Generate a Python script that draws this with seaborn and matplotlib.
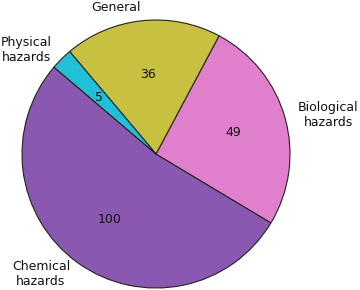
import matplotlib
matplotlib.use("Agg")
import matplotlib.pyplot as plt
import seaborn as sns

sns.set_theme(style="white")
plt.rcParams['font.family'] = ['DejaVu Sans']

categories = ["Chemical\nhazards", "Biological\nhazards", "General", "Physical\nhazards"]
values = [100, 49, 36, 5]
colors = ["#8a58b0", "#e07fcc", "#c8c040", "#22c0d6"]

total = sum(values)

fig = plt.figure(figsize=(3.6, 2.9), dpi=100)
ax = fig.add_axes([22 / 360, 2 / 290, 268 / 360, 268 / 290])
wedges, texts, autotexts = ax.pie(
    values, labels=categories, colors=colors, startangle=139.6,
    autopct=lambda p: f"{round(p * total / 100):d}", pctdistance=0.6,
    labeldistance=1.1,
    wedgeprops=dict(edgecolor="#222222", linewidth=0.8),
    textprops=dict(fontsize=9, color="#111111"),
)
for t in texts:
    t.set_multialignment("center")
ax.set_xlim(-1, 1)
ax.set_ylim(-1, 1)
ax.set_aspect("equal")
ax.axis("off")
fig.savefig("out.png", dpi=100)
